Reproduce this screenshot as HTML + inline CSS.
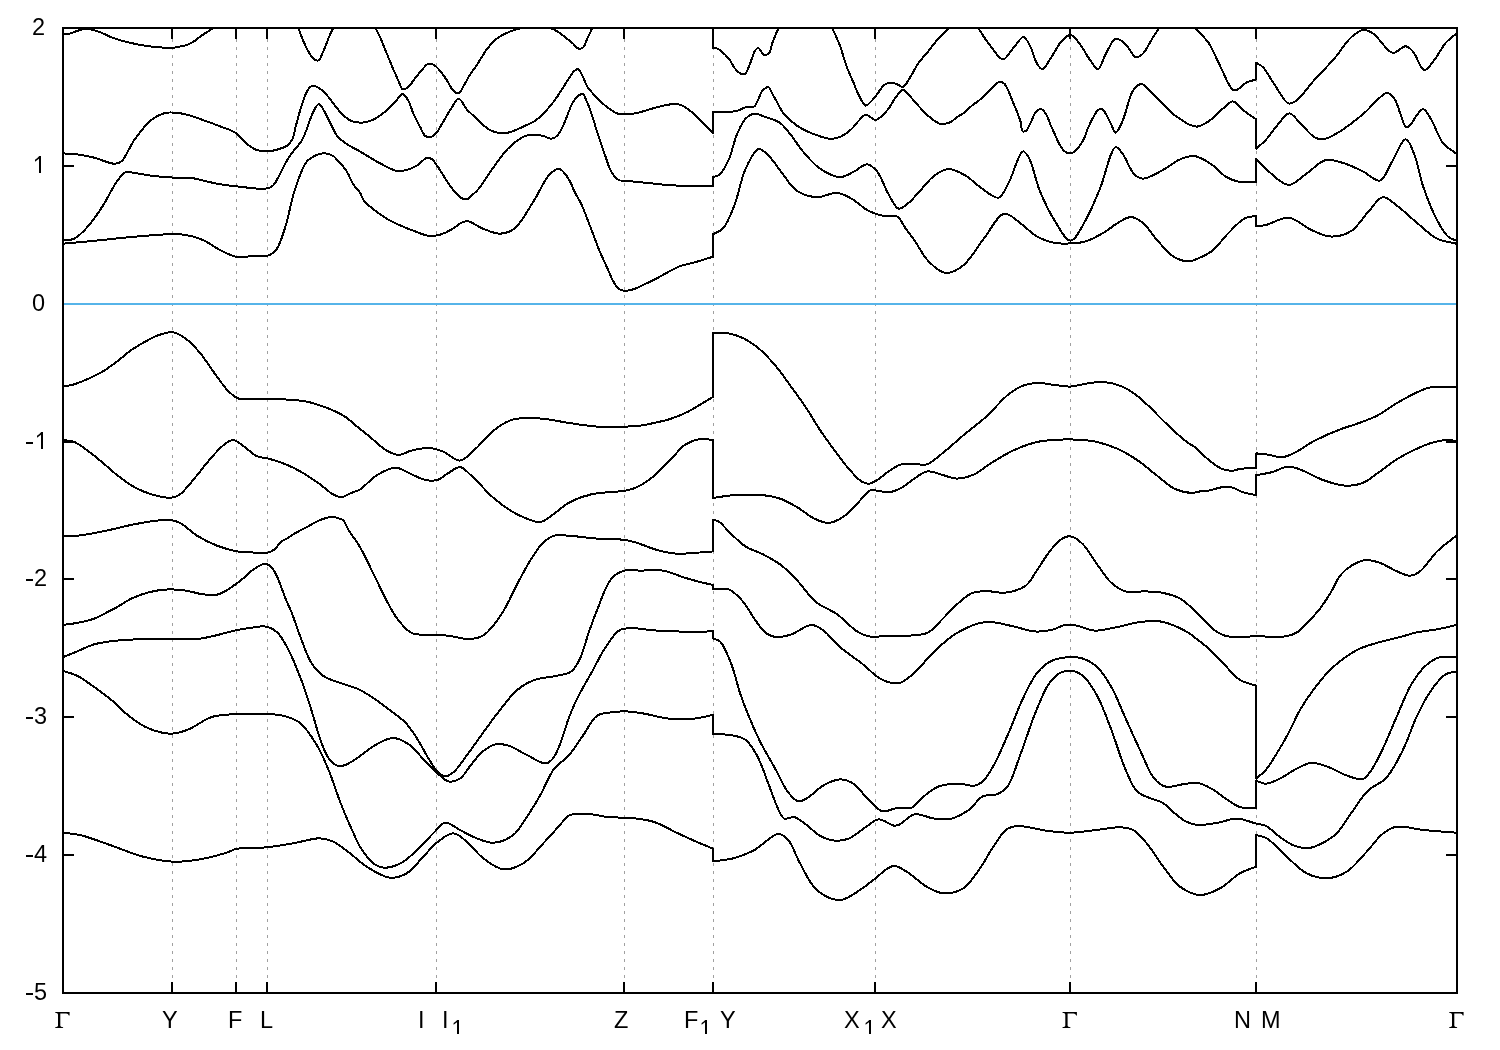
<!DOCTYPE html>
<html><head><meta charset="utf-8"><style>
html,body{margin:0;padding:0;background:#fff;}
svg{display:block;}
text{font-family:"Liberation Sans",sans-serif;font-size:23.5px;fill:#000;}
.g{font-family:"Liberation Serif",serif;}
</style></head><body>
<svg width="1500" height="1050" viewBox="0 0 1500 1050" style="will-change:transform">
<rect width="1500" height="1050" fill="#fff"/>
<defs><clipPath id="pa"><rect x="63" y="28" width="1394" height="965"/></clipPath></defs>
<g stroke="#a0a0a0" stroke-width="1" stroke-dasharray="3 5" stroke-dashoffset="0" fill="none"><line x1="172.5" y1="994" x2="172.5" y2="29"/><line x1="236.5" y1="994" x2="236.5" y2="29"/><line x1="267.5" y1="994" x2="267.5" y2="29"/><line x1="436.5" y1="994" x2="436.5" y2="29"/><line x1="624.5" y1="994" x2="624.5" y2="29"/><line x1="713.5" y1="994" x2="713.5" y2="29"/><line x1="875.5" y1="994" x2="875.5" y2="29"/><line x1="1070.5" y1="994" x2="1070.5" y2="29"/><line x1="1256.5" y1="994" x2="1256.5" y2="29"/></g>
<g clip-path="url(#pa)" fill="none" stroke="#000" stroke-width="2" stroke-linejoin="round" shape-rendering="crispEdges">
<path d="M60 35C61.2 34.8 62.1 34.6 63.5 34.4C65.5 34.1 68.4 33.9 70.7 33.3C73 32.7 75.2 31.6 77.3 30.9C79.2 30.3 80.6 29.6 82.7 29.3C85.4 29 88.9 29.1 92 29.6C95.1 30.2 98 31.4 101.3 32.7C105.1 34.2 109.1 36.5 113.3 38C117.6 39.6 121.8 40.8 126.7 42C132.7 43.5 140.7 45.1 146.7 46C151.6 46.7 156 47 160 47.3C163.4 47.6 166.2 48.1 169.3 48C172.4 47.9 175.5 47.5 178.7 46.9C182.2 46.2 186.2 45.3 189.3 44C191.9 42.9 194.1 41.3 196 40C197.6 38.9 198.5 37.8 200 36.7C201.7 35.4 203.7 34.2 205.7 32.9C207.7 31.6 209.9 30.3 212 29C214 27.7 216 26.3 218 25"/><path d="M296.2 21C297.1 23.5 297.9 25.9 298.8 28.6C299.9 31.7 301 35.6 302.2 38.5C303.1 40.8 304.1 42.7 305 44.6C305.7 46.2 306.3 47.5 307.1 49.1C308 50.8 309.2 52.9 310.2 54.5C311.1 55.9 312 57.4 312.9 58.3C313.5 59 314 59.4 314.8 59.8C315.6 60.2 316.9 60.7 317.8 60.6C318.5 60.5 319.1 60 319.7 59.4C320.5 58.5 320.9 56.7 321.6 55.2C322.4 53.4 323.4 51.2 324.3 49.1C325.2 46.9 326.2 44.5 327 42.3C327.8 40.3 328.3 38.6 329.2 36.6C330.2 34.2 331.6 31.5 332.7 29C333.7 26.6 334.6 24.3 335.5 22"/><path d="M373 22C374 24.2 374.8 26.2 376 28.7C377.5 32 379.6 36.1 381.3 40C383.1 44.2 384.8 48.7 386.7 53.3C388.8 58.4 391.2 64.4 393.3 69.3C395.2 73.6 397 77.7 398.7 81.3C400.1 84.3 400.9 88.6 402.7 89.3C404.2 89.9 406.3 88.6 408 87.3C410.4 85.6 412.5 81.5 414.7 78.7C416.9 76 419 73.2 421.3 70.7C423.5 68.3 425.7 64.8 428 64C429.7 63.4 431.6 63.9 433.3 64.7C435.6 65.7 437.9 68.3 440 70.7C442.4 73.4 444.5 76.8 446.7 80C449 83.4 450.9 88.5 453.3 90.7C455 92.2 457.1 93.7 458.7 93.3C460.8 92.7 462.2 88.2 464 85.3C466 82 467.9 78.1 470 74.7C472.1 71.4 474.3 68.9 476.7 65.3C479.9 60.6 483.6 53.4 487.3 48.7C490.3 44.8 493.2 41.4 496.7 38.7C500 36.1 503.7 34.3 507.3 32.7C510.8 31.1 514.5 30 518 29C521.4 28 524.5 27 528 26.5C531.8 26 536 25.6 540 26C544.2 26.4 549.2 27.6 552.7 29C555.3 30 557.1 31.3 559.3 32.7C561.6 34.2 563.8 36.2 566 38C568.2 39.8 570.6 41.5 572.7 43.3C574.8 45.1 576.7 48.3 578.7 48.7C580.2 49 582 48.4 583.3 47.3C585.1 45.7 585.9 41.7 587.3 38.7C588.8 35.5 590.6 31.7 592 28.7C593.1 26.2 594 24.2 595 22"/><path d="M62.9 153.4C67.6 153.7 72.1 153.7 77 154.3C82.5 155 88.4 156.2 94.3 157.7C100.8 159.3 109.3 163.8 114.3 163.7C117.3 163.7 119 163.3 121.4 161.4C125.7 158 129.4 146.8 134.3 140C139.3 133 145.5 124.6 151.4 120C156 116.4 160.6 114 165.7 112.9C171 111.8 177 112.7 182.9 113.7C189.4 114.9 196.5 117.8 202.9 120C208.8 122 214.4 124.1 220 126.3C225.4 128.4 231.3 129.9 235.7 132.9C239.7 135.6 242.1 140 245.7 142.9C249.2 145.7 252.8 148.7 257 150C261.3 151.4 267.2 151.3 271.4 150.9C274.7 150.6 277.3 149.6 280 148.7C282.4 147.9 284.7 147.4 286.7 146C288.8 144.5 290.6 142.7 292 140C294 136.3 294.6 130.5 296 125.3C297.6 119.5 299.4 112.5 301.3 106.7C303 101.5 304.8 95.6 306.7 92C308 89.7 309.2 87.6 310.7 86.7C311.9 86 313.3 85.8 314.7 86C316.4 86.3 318.3 87.6 320 88.7C321.8 89.9 323.4 91.4 325.3 93.3C327.8 95.9 330.6 100 333.3 103.3C336 106.6 338.3 110.4 341.3 113.3C344.2 116.1 347.3 119.1 350.7 120.7C354 122.2 357.9 122.7 361.3 122.7C364.5 122.7 367.6 121.9 370.7 120.7C374.2 119.4 378 117 381.3 114.7C384.6 112.4 387.9 109.4 390.7 106.7C393.2 104.3 395.2 101.5 397.3 99.3C399.1 97.4 400.7 94 402.4 94C404.2 94 406.4 97.4 408 100C410.2 103.4 411.3 108.9 413.3 113.3C415.3 117.8 417.8 122.7 420 126.7C421.8 130.1 423.1 134.4 425.3 136C426.9 137.1 429 137.4 430.7 137C432.6 136.6 434.3 135.1 436 133.3C438.4 130.8 440.4 126.5 442.7 122.7C445.3 118.5 447.9 113.4 450.7 109.3C453.3 105.5 456 98.7 458.7 98.7C461.4 98.7 463.7 106 466.7 109.3C469.7 112.7 473.7 115.8 476.7 118.7C479.1 121.1 480.8 123.3 483.3 125.3C486.1 127.5 489.2 130 492.7 131.3C496.3 132.7 501 133.5 504.7 133.3C508 133.1 510.7 131.9 514 130.7C517.8 129.3 522.3 127.1 526 125.3C529.3 123.7 532.2 122.8 535.3 120.7C538.9 118.2 542.8 114.1 546 110.7C549 107.6 551.4 104.7 554 101.3C556.8 97.6 559.5 93.2 562 89.3C564.4 85.7 566.6 81.9 568.7 78.7C570.5 76 572.2 72.9 574 71.3C575.3 70.1 576.8 68.8 578 69.1C579.5 69.4 580.7 72.4 582 74.7C583.8 77.9 585 83.1 587.3 86.7C589.5 90.2 592.6 93.1 595.3 96C597.9 98.8 600.7 101.7 603.3 104C605.6 106 607.6 107.7 610 109.3C612.5 110.9 614.8 112.9 618 113.7C622.1 114.7 628.2 114.2 632.7 113.7C636.5 113.3 639.6 112.3 643.3 111.3C647.5 110.2 652.1 108.5 656.7 107.3C661.5 106.1 667 104.6 671.4 104.3C675 104.1 678 103.9 681.4 105.1C685.6 106.6 690.3 110.9 694.3 114.3C698.4 117.7 702.3 122.3 705.7 125.7C708.4 128.4 710.5 130.5 712.9 132.9L712.9 112C716.2 112 719.3 112.1 722.9 112C727.2 111.8 733 111.9 737 110.9C740.1 110.1 742.2 108.1 745 107.4C747.9 106.6 752.2 107.9 754.3 106.5C756.1 105.3 756.5 102.8 757.7 100.5C759.3 97.6 760.6 92.5 762.8 90.3C764.5 88.6 767.2 86.8 768.8 87.3C770.4 87.8 771.1 91.6 772.3 93.7C773.4 95.7 774.5 97.5 775.7 99.7C777.2 102.5 779.2 106.5 780.8 109.1C782 111.1 782.6 112.4 784.3 114.3C787.1 117.5 792.2 122.4 797 125.7C802.1 129.2 808.4 132.1 814.3 134.3C819.9 136.4 826.6 138.9 831.4 138.9C834.9 138.9 837.5 138 840.6 136.6C844.4 134.9 848.8 131.5 852 128.6C854.8 126.1 856.5 123 858.9 120.6C861.1 118.4 863.1 115.2 865.7 114.9C868.6 114.6 872.7 120 875.4 120C877.4 120 878.8 118.5 880.6 117.1C883.1 115.1 886.2 111.7 888.6 108.6C891.1 105.3 892.9 100.9 895.4 97.7C897.7 94.8 900.4 90.1 902.9 90C905.3 89.9 907.8 94.1 910.3 96.6C913.3 99.6 916.2 103.5 919.4 106.9C922.7 110.4 926.1 114.2 929.7 117.1C933 119.8 936.9 122.9 940 123.8C942.2 124.4 944.1 124 946 123.6C947.8 123.3 949.4 122.7 951.1 121.8C953.1 120.7 955 118.6 957.1 117.1C959.3 115.6 961.7 114.6 964 112.8C966.8 110.7 969.9 107.2 972.6 105.1C974.7 103.4 976.5 102.5 978.6 100.8C981.1 98.8 983.9 96.3 986.3 94C988.7 91.7 990.9 89.2 993.1 87.1C995.1 85.2 997.1 82.4 999.1 82C1000.8 81.7 1002.8 82.5 1004.3 83.7C1006.2 85.2 1007.3 88.6 1008.6 91.4C1010.1 94.5 1011.4 98.3 1012.8 101.7C1014.2 105.1 1015.8 108.6 1017.1 112C1018.3 115.2 1019.6 118.2 1020.5 121.4C1021.4 124.6 1021.2 130.3 1022.7 131.3C1023.7 131.9 1025.4 131.3 1026.5 130.4C1028.2 129.1 1029.3 125.2 1030.8 122.3C1032.5 119.1 1033.9 114.2 1036 112C1037.5 110.4 1039.5 108.8 1041.1 109C1042.9 109.3 1044.8 112.3 1046.3 114.6C1048.1 117.4 1049.1 121.5 1050.5 124.8C1051.9 128 1053.4 131.1 1054.8 134.3C1056.2 137.4 1057.4 140.8 1059.1 143.7C1060.6 146.4 1062.3 149.3 1064.3 151C1065.9 152.3 1067.7 153.3 1069.4 153.5C1070.9 153.6 1072.3 153.2 1073.7 152.3C1075.7 151.1 1078 148.1 1079.7 145.8C1081.4 143.5 1082.7 141.3 1084 138.6C1085.6 135.3 1086.6 131.2 1088.3 127.4C1090.1 123.4 1092.5 118.5 1094.3 115.4C1095.5 113.3 1096.3 111.4 1097.7 110.3C1098.9 109.4 1100.7 108.5 1102 109C1103.9 109.7 1105.6 113.7 1107.1 116.3C1108.7 119 1109.9 122 1111.4 124.8C1112.8 127.5 1114.1 132.6 1115.7 132.6C1117.5 132.7 1120 126.6 1121.7 123.1C1123.5 119.4 1124.7 115.1 1126 111.1C1127.3 107.1 1128 102.8 1129.4 99.1C1130.6 95.7 1131.7 92.3 1133.7 89.7C1135.5 87.3 1138.5 84.5 1140.5 84.1C1141.8 83.8 1142.8 84.3 1144 85C1145.9 86.1 1148 89 1150 91C1152 93.1 1154.1 95.6 1156 97.4C1157.5 98.9 1158.7 99.8 1160.3 101.3C1162.3 103.2 1164.9 105.5 1167.1 107.7C1169.2 109.8 1170.9 112.2 1173.1 114.1C1175.2 115.9 1177.6 117.2 1180 118.8C1182.7 120.6 1185.6 123 1188.6 124.3C1191.3 125.5 1194 126.8 1197 126.6C1200.6 126.3 1204.7 123.9 1208.6 121.4C1213.4 118.3 1218.5 112.2 1222.9 108.6C1226.4 105.7 1229.6 101.3 1232.9 101.4C1236.3 101.5 1239.2 107.2 1242.9 110C1247 113.2 1251.8 116.3 1256.3 119.4L1256.3 148.6C1259.4 145.7 1262.6 143.4 1265.7 140C1269.5 136 1273 130.2 1277 125.7C1280.9 121.3 1285.1 113.6 1289.1 113.4C1292.8 113.3 1296.2 119.3 1300 122.9C1304.5 127.1 1309.8 134.5 1314.3 137.1C1317.3 138.8 1319.6 139.7 1322.9 139.4C1327.7 139 1334.1 134.9 1340 131.4C1347.3 127 1355.3 120.5 1362.9 114.3C1371 107.7 1381.4 93.1 1387.1 92.9C1390.2 92.8 1392 95.5 1394.3 98.6C1398.5 104.1 1402.4 124.4 1405.7 126.6C1406.7 127.3 1407.4 127.2 1408.6 126.6C1411.8 125.1 1418.8 109.1 1422.9 109.1C1426.1 109.1 1428.6 115.5 1431.4 120C1435.2 126.1 1438.2 137 1442.9 142.9C1446.8 147.7 1451.8 150.1 1456.3 153.7"/><path d="M830 22C830.9 24.2 831.5 25.8 832.6 28.6C834.5 33.3 838.3 41.1 840.6 47.4C842.8 53.5 844.2 59.9 846.3 65.7C848.3 71.3 850.9 76.6 853.1 81.7C855.1 86.4 856.7 91.3 858.9 95.4C860.9 99.2 863.4 105.3 865.7 105.7C867.2 106 868.7 103.8 870.3 102.3C872.5 100.3 874.9 97.1 877.1 94.3C879.4 91.4 881.4 87 884 85.1C886.1 83.5 888.7 82.7 890.9 82.6C892.9 82.5 894.7 83.3 896.6 84C898.7 84.7 900.9 87.4 902.9 86.9C905.6 86.2 907.9 80.7 910.3 77.1C913 73 915.3 67.7 918.3 63.4C921.4 59 925.3 55 928.6 50.9C931.7 47 934.5 43.1 937.7 39.4C940.9 35.7 945.4 31.5 948 28.6C949.7 26.8 950.7 25.5 952 24"/><path d="M975 22C976.2 24.2 976.9 25.9 978.6 28.6C981.5 33.3 987 41.7 991.4 47.1C995.2 51.8 999.2 59.4 1002.9 59.4C1006.4 59.4 1009.5 52.3 1012.9 48.6C1016.4 44.8 1020.4 37 1023.4 37.1C1025.9 37.2 1028 42.2 1030 45.7C1032.6 50.3 1034 58.8 1036.6 62.9C1038.3 65.7 1040.2 69.2 1042.3 69.1C1045.1 69 1048.4 61.4 1051.4 57.1C1054.8 52.3 1057.7 45.3 1061.4 41.4C1064.3 38.4 1067.6 34.6 1070.6 34.9C1073.8 35.2 1077 40.6 1080 44.3C1083.5 48.7 1086.7 55.6 1090 60C1092.7 63.6 1095.6 69.4 1098 69.1C1100.9 68.8 1102.8 59.2 1105.7 54.3C1108.7 49.1 1111.9 39.6 1115.7 38.6C1118.7 37.9 1122.6 41.6 1125.7 44.3C1129.4 47.5 1132.3 56.3 1135.7 57.1C1138.1 57.7 1140.7 55.7 1142.9 53.7C1146.1 50.9 1148.7 44.4 1151.4 40C1153.9 36 1156.7 31.9 1158.6 28.6C1160 26.1 1160.9 24.2 1162 22"/><path d="M1192 22C1193.2 24.2 1193.9 26.1 1195.7 28.6C1198.6 32.6 1204.8 37.3 1208.6 42.9C1213 49.4 1216 58 1220 65.7C1224.1 73.7 1229.1 87.7 1232.9 90C1234.3 90.9 1235.5 90.5 1237 90C1239.5 89.1 1242.5 84.7 1245.7 82.9C1248.9 81.1 1252.8 80.6 1256.3 79.4L1256.3 62.9C1258.5 64.3 1260.6 64.9 1262.9 67.1C1266.6 70.7 1270.2 78.5 1274.3 84.3C1278.7 90.6 1284 102.1 1288.6 103.4C1291.5 104.2 1294 102.2 1297 100C1302.1 96.3 1308.3 86.7 1314.3 80C1320.7 72.9 1328 65.9 1334.3 58.6C1340.4 51.6 1345.8 42 1351.4 37.1C1355.3 33.6 1359 30.4 1362.9 30C1366.6 29.6 1371 32 1374.3 34.3C1377.7 36.7 1379.8 41.2 1382.9 44.3C1386 47.4 1389.2 52.5 1392.9 52.9C1396.8 53.4 1402.1 46 1405.7 46.3C1408.5 46.5 1410.5 48.8 1412.9 51.4C1416.7 55.4 1420.3 69.5 1424.3 70C1427.5 70.4 1431 64 1434.3 60C1438.2 55.2 1441.6 47.5 1445.7 42.9C1449.1 39.1 1453.6 35.8 1456.3 33.7C1457.8 32.5 1458.8 31.9 1460 31"/><path d="M712.9 22L712.9 47.9L712.9 47.9C714.4 48.2 716 48.2 717.4 48.7C718.7 49.2 719.5 49.8 720.8 50.8C723.1 52.6 727 56.4 729.4 59.4C731.5 62.1 732.5 65.5 734.6 68C736.6 70.4 739.3 73.3 741.4 74C742.8 74.4 744.1 74.4 745.3 73.6C747.2 72.2 748.6 67 750 63.7C751.3 60.6 752.4 56.7 753.4 54.3C754 52.7 754.2 51.4 755.1 50.4C756 49.4 757.4 47.9 758.6 48.1C760.3 48.4 761.8 54 763.7 54.7C765.2 55.2 767.5 54.6 768.8 53.4C770.7 51.6 771.1 46.4 772.3 43.1C773.4 40.1 774.6 37.2 775.7 34.6C776.6 32.4 777.5 30.5 778.3 28.6C779 27 779.4 25.5 780 24"/><path d="M62.9 240.6C66.7 239.9 70.5 240.4 74.3 238.6C79.1 236.2 84.1 230.8 88.6 225.7C93.7 220 98.3 212.8 102.9 205.7C107.8 198.1 112.5 187.4 117 181.4C120 177.3 122.5 173.2 125.7 172C128.3 171 131 172.5 134.3 172.9C139 173.5 145.3 174.9 151.4 175.7C158.5 176.6 167.2 177.3 174.3 177.7C180.4 178 185.2 177.3 191.4 178C199.1 178.9 208.4 182.2 217 183.7C225.6 185.2 234.5 186.3 242.9 187.1C250.7 187.9 260.3 189.5 265.7 188.6C268.8 188.1 270.8 187.5 272.9 185.7C275.7 183.3 277.6 178.2 280 174C282.7 169.3 285.5 162.8 288 158.7C289.8 155.7 291.3 153.9 293.3 151.3C295.7 148.2 299.1 144.9 301.3 141.3C303.6 137.6 305 133.5 306.7 129.3C308.6 124.7 309.9 119.1 312 114.7C313.9 110.7 316.5 104.1 318.7 104C320.5 103.9 322.3 108 324 110.7C326.3 114.3 328.4 119.7 330.7 124C332.9 128.1 334.5 132.6 337.3 136C339.9 139.2 343.2 141.5 346.7 144C350.6 146.7 355.6 148.9 360 151.5C364.5 154.1 369.6 157.3 373.3 159.5C375.9 161 377.3 161.9 380 163.3C384.2 165.4 391.1 169.8 396 170.7C399.8 171.4 403.2 170.9 406.7 170C410.3 169.1 414 167.3 417.3 165.3C420.7 163.3 423.9 158.6 426.7 158C428.6 157.6 430.4 158.3 432 159.3C434 160.6 435.4 163.3 437.3 166C440.1 169.9 443.8 176.4 446.7 180.7C449 184.2 450.9 187.1 453.3 190C455.7 192.9 458.7 196.5 461.3 198C463.1 199 465 199.7 466.7 199.3C468.6 198.9 470.1 196.9 472 195.3C474.5 193.2 478.1 189.7 480 187.3C481.3 185.7 481.5 184.9 482.9 182.9C486.1 178.1 494.7 165.4 499.3 159.3C502.4 155.2 504.5 152.3 507.3 149.3C509.9 146.6 512.3 144.2 515.3 142C518.5 139.6 522.6 136.9 526 135.7C528.8 134.8 531.2 134.7 534 134.7C537 134.7 540.4 135.3 543.3 136C545.9 136.7 548.5 138.6 550.7 138.7C552.4 138.7 553.8 138.3 555.3 137.3C557.2 136 559.1 133.4 560.7 130.7C562.7 127.4 564.2 123 566 118.7C568.1 113.8 570.3 106.8 572.7 102.7C574.4 99.8 576.1 97.5 578 96C579.5 94.9 581.3 93.5 582.7 94C584.6 94.7 585.8 99.4 587.3 102.7C589.2 106.9 591.1 112.5 592.7 117.3C594.2 121.8 595.2 126 596.7 130.7C598.3 135.8 600.3 141.6 602 146.7C603.6 151.3 605.2 155.8 606.7 160C608.1 163.8 608.8 167.4 610.7 170.7C612.7 174.1 616 178.6 618.7 180C620.5 181 621.6 180.4 624 180.7C628.7 181.2 638.4 182 645.3 182.7C651.7 183.3 657.4 184.2 664 184.7C671.5 185.3 679.9 185.8 688 186C696.2 186.2 704.6 186 712.9 186L712.9 177.1C715.3 176.2 717.8 176.2 720 174.3C723.2 171.6 726 165.6 728.6 160C731.9 152.8 733.8 141.7 737 134.3C739.6 128.3 742.2 122.1 745.7 118.6C748.3 116 751.1 114.1 754.3 113.7C757.8 113.3 761.7 115.7 765.7 117.1C770.2 118.7 775.8 119.9 780 122.9C784.4 126 787.7 131.1 791.4 135.7C795.3 140.6 798.5 146.2 802.9 151.4C807.9 157.2 813.6 164.3 820 168.6C826 172.7 833.9 177 840 177.1C845.2 177.2 849.7 173.6 854.3 171.4C858.7 169.3 863.1 164.1 867 164.3C870.6 164.5 873.9 167.8 877 171.4C881.4 176.5 884.6 187.7 888.6 194.3C891.9 199.8 894.8 207.8 898.6 208.6C901.7 209.3 905.6 205.2 908.6 202.9C911.7 200.5 913.7 197.7 917 194.3C921.8 189.3 928.4 180 934.3 175.7C939 172.3 943.6 169.3 948.6 169.1C954 168.9 960.5 172.7 965.7 175.7C970.9 178.7 974.8 183.6 980 187.1C985.7 190.9 993.7 198.8 998.6 197.7C1003 196.7 1005.2 188.9 1008.6 182.9C1013.3 174.5 1018.7 152.2 1022.9 151.4C1024.9 151 1026.7 154.1 1028.6 157.1C1032.6 163.5 1035.5 180.6 1040 191.4C1044.2 201.5 1048.9 211.5 1054.3 220C1059.2 227.7 1065.3 240.7 1070.6 240.6C1075.8 240.5 1081.1 227.9 1085.7 220C1091 210.9 1095.3 199.9 1100 188.6C1105.3 175.8 1110.6 148.2 1115.7 147.1C1118.1 146.6 1120.4 151.1 1122.9 154.3C1126.6 159.1 1130.1 170.3 1134.3 174.3C1137 176.9 1139.4 178.5 1142.9 178.6C1148.2 178.8 1156.6 173.3 1162.9 170C1168.9 166.8 1174.4 161.7 1180 159.4C1184.8 157.4 1189.4 155.5 1194.3 156C1199.9 156.6 1206.2 160.9 1211.4 164.3C1216.6 167.7 1220.7 173.6 1225.7 176.6C1230.2 179.3 1235 181.1 1240 182C1245.2 182.9 1250.9 182 1256.3 182L1256.3 159.1C1260.4 163.2 1263.8 167.4 1268.6 171.4C1274.3 176.1 1282.2 184.8 1288.6 184.9C1294.5 185 1299.8 178.2 1305.7 174.3C1312.2 170 1319 161.6 1325.7 160C1331.4 158.7 1337.1 161.2 1342.9 162.9C1349.4 164.8 1356.6 168.4 1362.9 171.4C1368.9 174.3 1375.3 181.8 1380 180.6C1384.9 179.3 1387.4 169.2 1391.4 162.9C1395.9 155.6 1401.6 139.4 1405.7 139.4C1409 139.4 1411.8 148.2 1414.3 154.3C1417.8 162.7 1419.3 175.1 1422.9 185.7C1426.8 197 1432 210.7 1437 220C1440.7 226.9 1444.6 233.8 1448.6 237.1C1451.1 239.2 1453.7 239.4 1456.3 240.6"/><path d="M62.9 243.7C71.5 242.9 79 242.3 88.6 241.4C101.1 240.2 117.6 238.2 131.4 237C144.2 235.9 158.6 234.5 168.6 234.3C175.4 234.2 180 234 185.7 234.9C191.5 235.8 197.3 237.6 202.9 240C208.8 242.5 214.3 247.2 220 250C225.3 252.6 230.1 255.6 235.7 256.6C241.5 257.7 248.4 256.3 254.3 256C259.8 255.7 266 256.6 270 254.9C273.1 253.6 274.9 251.7 277 248.6C280.4 243.6 283 234.2 285.7 225.7C288.9 215.5 290.8 202.2 294.3 191.4C297.6 181.3 302.5 167.7 305.7 162.9C307 160.9 307.8 160.5 309.3 159.3C311.4 157.7 314.5 155.7 317.3 154.7C319.9 153.8 322.7 153.1 325.3 153.3C328 153.5 331.4 154.8 333.3 156C334.6 156.8 335 157.6 336 158.7C337.4 160.2 339.3 162 341 164C342.9 166.2 345 168.5 346.7 171.3C348.7 174.4 350.3 179 352 182C353.4 184.3 354.6 186.2 356 188C357.3 189.7 358.8 190.8 360 192.7C361.5 194.9 362.3 198.4 364 200.7C365.7 202.9 368 204.7 370 206.5C372 208.2 373.7 209.6 376 211.3C379 213.5 382.9 216.4 386.7 218.7C390.8 221.1 395.5 223.3 400 225.3C404.4 227.3 409.1 229.1 413.3 230.7C417 232.2 420.8 233.8 424 234.7C426.5 235.4 428.3 235.9 430.7 236C433.5 236.1 436.8 235.6 440 234.7C443.8 233.6 448.3 231.4 452 229.3C455.4 227.4 458.3 224 461.3 222.7C463.6 221.7 465.4 221 468 221.3C472.1 221.8 477.7 226.6 482.9 228.6C488.3 230.7 494.6 233.8 500 233.7C505 233.6 509.7 232.1 514.3 228.6C521.3 223.3 528.4 209.3 534.3 200C539.6 191.7 543.7 181.1 548.6 175.7C551.9 172.2 555.9 168.6 558.6 168.6C560.4 168.6 561.5 170.1 563 171.5C565.1 173.5 567.4 176.8 569.3 180C571.4 183.6 572.7 188 574.7 192C576.7 196 579.3 199.8 581.3 204C583.3 208.3 584.8 212.6 586.7 217.3C588.8 222.7 591.1 228.9 593.3 234.7C595.5 240.5 597.7 246.5 600 252C602.2 257.1 604.5 261.8 606.7 266.7C608.9 271.6 611 277.3 613.3 281.3C615 284.3 616.6 287.1 618.7 288.7C620.3 289.9 622 290.5 624 290.7C626.6 291 630 290.3 633.3 289.3C637.4 288.1 642.4 285.3 646.7 283.3C650.8 281.3 654.2 279.6 658.7 277.3C664.5 274.3 672.4 269.2 678.7 266.7C683.8 264.7 688.1 264.2 693.3 262.7C699.4 261 706.4 258.8 712.9 256.8L712.9 234.3C716.2 232.4 719.9 231.8 722.9 228.6C727.4 223.8 730.8 214.4 734.3 205.7C738.6 195 740.9 178.7 745.7 168.6C749.4 160.7 754.1 150 758.6 149.1C761.8 148.4 765.2 152.6 768.6 155.7C773.3 160.1 778.1 168.3 782.9 174.3C787.5 180 791.2 187.1 797 190.9C802.6 194.6 810.3 196.8 817 197.1C823.6 197.4 830.9 192.4 837 192.9C842.3 193.3 846.6 196 851.4 198.6C857.1 201.7 862.9 208 868.6 210.9C873.4 213.4 878.1 214.8 882.9 215.7C887.6 216.6 893.2 214.5 897 216.6C900.9 218.7 902.8 224.7 905.7 228.6C908.6 232.5 911.1 235.6 914.3 240C918.5 246 923 255.8 928.6 261.4C933.6 266.4 939.8 272.3 945.7 272.9C951.3 273.4 957.5 269.9 962.9 265.7C970.1 260.2 976.1 248.6 982.9 240C989.9 231.2 997.2 215 1004.3 213.7C1009.5 212.8 1014.8 219.3 1020 222.9C1025.7 226.8 1031.1 233.2 1037.1 236.6C1042.6 239.7 1048.6 241.8 1054.3 242.9C1059.7 243.9 1065.3 243.7 1070.6 243.4C1075.7 243.1 1080.5 243 1085.7 241.4C1092.1 239.5 1100.1 234.8 1105.7 231.4C1110.1 228.8 1112.9 225.7 1117 223.4C1121.3 220.9 1126.4 217 1130.9 217.1C1135.1 217.2 1139.1 219.9 1142.9 222.9C1147.9 226.8 1151.9 234.4 1157 240C1162.3 245.8 1168.4 253.6 1174.3 257.1C1179 259.9 1184.9 261.3 1188.6 261.4C1190.9 261.5 1192 260.9 1194.3 260C1198.5 258.4 1206 255.4 1211.4 251.4C1217.6 246.8 1222.9 238.6 1228.6 232.9C1233.8 227.7 1239.1 221.4 1244.3 218.6C1248.3 216.5 1252.3 216.7 1256.3 215.7L1256.3 226.3C1259.4 225.9 1261.9 225.9 1265.7 225.1C1271.7 223.8 1281.1 217 1288.6 217.7C1296.4 218.4 1303.9 226.8 1311.4 230C1318.2 232.9 1324.7 236.5 1331.4 236.6C1338 236.7 1345.5 234.6 1351.4 230.9C1358 226.7 1363 217.3 1368.6 211.4C1373.5 206.2 1377.9 197.7 1382.9 197.1C1387.4 196.6 1392 202.1 1397 205.7C1403.3 210.3 1410.3 217.4 1417 222.9C1423.6 228.3 1430 235.1 1437 238.6C1443.2 241.7 1449.9 242 1456.3 243.7"/><path d="M62.9 386.6C66.7 385.8 70.3 385.5 74.3 384.3C78.9 382.9 83.9 380.7 88.6 378.6C93.4 376.4 98.2 374.2 102.9 371.4C107.8 368.5 112.4 364.9 117.1 361.4C121.9 357.8 126.5 353.4 131.4 350C136.1 346.8 141 344 145.7 341.4C150.1 339 154.1 336.6 158.6 335.1C163.1 333.6 168.4 331.7 172.9 332.3C177.4 332.9 181.6 335.6 185.7 338.6C190.6 342.1 195.4 347.5 200 352.9C205 358.8 209.5 366.4 214.3 372.9C219 379.2 223.9 386.9 228.6 391.4C232 394.7 234.7 397.3 238.6 398.6C243.1 400.1 248.6 399 254.3 399.1C261.2 399.2 269.1 398.8 277.1 399.1C286.1 399.5 296.8 399.7 305.7 401.4C313.9 403 321.6 405.8 328.6 408.6C334.8 411.1 341.1 414.1 345.7 417.1C349.2 419.4 351.1 421.6 354.3 424.3C358.4 427.7 363.6 431.7 368.6 435.7C374.1 440.2 380.1 446.7 385.7 450C390.1 452.6 394.3 454.8 398.6 454.9C402.9 455 406.8 451.7 411.4 450.6C416.7 449.3 423.2 447.8 428.6 448C433.6 448.2 438 449.6 442.9 451.4C448.5 453.5 454.7 461 460 460.6C465.1 460.2 469.3 454.3 474.3 450C480.6 444.6 487.6 435.2 494.3 430C499.9 425.6 505.8 422 511.4 420C516.2 418.3 520.5 418.2 525.7 418C531.8 417.7 538.8 418.3 545.7 419.1C553.1 419.9 560.5 421.7 568.6 422.9C577.6 424.2 587.6 426 597.1 426.6C606.6 427.2 617.8 426.8 625.7 426.6C631.3 426.4 635.3 426.3 640 425.7C644.8 425.1 649.3 424 654.3 422.9C659.8 421.7 665.8 420.5 671.4 418.6C677.2 416.7 683.2 414.1 688.6 411.4C693.7 408.8 698.6 405.5 702.9 402.9C706.5 400.8 709.6 399 712.9 397.1L712.9 332.9C718.1 333.1 723.5 332.5 728.6 333.4C733.5 334.3 738.3 335.8 742.9 338C747.8 340.3 752.3 343.3 757.1 347.1C762.8 351.7 768.8 357.9 774.3 364.3C780.3 371.2 786 379.7 791.4 387.1C796.4 394 801 400.1 805.7 407.1C810.6 414.4 815.1 422.7 820 430C824.7 437 829.5 443.5 834.3 450C839 456.4 843.8 463.1 848.6 468.6C852.8 473.4 857.5 479 861.4 481.4C863.9 482.9 866.1 483.8 868.6 483.7C871.3 483.6 874.2 481.7 877.1 480C880.8 477.9 884.6 474 888.6 471.4C892.7 468.8 896.7 465.5 901.4 464.3C906.2 463.1 912.5 464.3 917.1 464.3C920.8 464.3 923.6 465.4 927.1 464.3C932 462.7 937.4 457.2 942.9 452.9C949.3 447.9 956 441.5 962.9 435.7C970.2 429.6 978.3 423.8 985.7 417.1C993.5 410.1 1001.5 399.8 1008.6 394.3C1013.7 390.3 1018 387.6 1022.9 385.7C1027.5 383.9 1032.1 383.1 1037.1 382.9C1042.5 382.7 1048.6 384.3 1054.3 384.9C1059.8 385.5 1065.3 386.8 1070.6 386.6C1075.7 386.4 1080.5 384.5 1085.7 383.7C1091.2 382.9 1097.2 381.7 1102.9 382C1108.6 382.3 1114.5 383.5 1120 385.7C1125.9 388 1133.1 392.7 1137.1 395.7C1139.6 397.6 1140.5 399.1 1142.6 400.9C1145.1 403.1 1148.6 405.7 1151.1 408.1C1153.3 410.3 1154.9 412.3 1157.1 414.6C1159.7 417.3 1162.5 420 1165.7 423.1C1169.5 426.8 1174.6 431.6 1178.6 435.1C1181.9 438 1185.1 440.7 1188 442.8C1190.4 444.5 1192.3 445.2 1194.8 447.1C1198.4 449.8 1203.1 455.1 1206.8 458.3C1209.8 460.9 1212.6 463.2 1215.4 465.1C1217.8 466.7 1219.7 468.1 1222.3 469C1225.3 470.1 1229.4 470.8 1232.5 470.7C1235 470.6 1236.9 469.4 1239.4 469C1242.5 468.5 1246.6 468.3 1249.7 468.1C1252.1 467.9 1254.1 467.8 1256.3 467.7L1256.3 453.4C1259.4 453.7 1262.1 453.8 1265.7 454.3C1270.6 454.9 1277.8 457.6 1282.9 457.1C1287.1 456.7 1290.1 454.9 1294.3 452.9C1300.2 450.1 1307.1 444.7 1314.3 440.9C1322.2 436.8 1332.2 432.4 1340 429.4C1346.2 427 1351.2 425.9 1357.1 423.7C1363.5 421.3 1370.6 419 1377.1 415.7C1383.9 412.2 1390.4 406.8 1397.1 402.9C1403.7 399.1 1410.9 395.1 1417.1 392.3C1422.2 390 1425.9 388.1 1431.4 387.1C1438.5 385.9 1448 387.1 1456.3 387.1"/><path d="M62.9 440C66.7 440.7 70.4 440.5 74.3 442C79 443.9 83.9 448 88.6 451.4C93.5 454.9 98.2 459 102.9 462.9C107.7 466.9 112 471.2 117.1 475.1C122.5 479.3 128.4 483.8 134.3 487.1C139.9 490.2 145.4 492.5 151.4 494.3C157.7 496.1 166.2 498.2 171.4 497.7C174.9 497.3 177 496.4 180 494.3C184.5 491.2 189.6 484.1 194.3 478.6C199.2 472.9 203.7 466.5 208.6 460.9C213.3 455.5 218.3 449.3 222.9 445.7C226.3 443 229.6 440 232.9 440C236.2 440 239.4 443.4 242.9 445.7C247.3 448.6 252.4 454.2 257.1 456.3C260.9 458 264.4 457.5 268.6 458.6C273.8 460 280.1 462 285.7 464.3C291.5 466.7 297.3 469.6 302.9 472.9C308.7 476.3 314.8 480.5 320 484.3C324.7 487.7 328.9 492.2 332.9 494.3C335.9 495.9 338.5 497.2 341.4 497.1C344.6 497 348.2 494.2 351.4 492.9C354.4 491.7 356.8 491.3 360 489.4C364.9 486.4 371 478.8 377.1 475.1C382.9 471.6 390.1 467.7 395.7 467.7C400.4 467.7 404 471 408.6 472.9C413.9 475.1 420.5 479 425.7 480C429.8 480.8 433.4 481 437.1 480C441.1 478.9 444.7 475.1 448.6 472.9C452.4 470.8 456.3 466.8 460 467.1C463.9 467.4 467.1 472 471.4 475.7C477.9 481.3 486.4 492 494.3 498.6C501.6 504.7 509.2 510.4 517.1 514.3C524.5 518 533.8 522.6 540 522C544.6 521.6 547.3 518.3 551.4 515.7C556.7 512.3 562.2 506.4 568.6 502.9C575.4 499.2 582.9 496.3 591.4 494.3C601.5 491.9 617.4 492.3 625.7 490.6C630.6 489.6 633.1 489 637.1 487.1C642.4 484.6 648.8 480.2 654.3 475.7C660.3 470.8 666 464 671.4 458.6C676.4 453.6 680.5 447.6 685.7 444.3C690.2 441.5 695.3 439.8 700 439.1C704.3 438.5 708.6 439.7 712.9 440L712.9 498C720 497 726.6 495.6 734.3 495.1C743.1 494.5 754.6 494.3 762.9 495.1C769.4 495.8 774.4 496.7 780 498.6C785.8 500.6 791.5 503.9 797.1 507.1C802.9 510.5 808.6 515.9 814.3 518.6C819.1 520.9 823.9 523.1 828.6 522.9C833.4 522.7 838.4 520 842.9 517.1C848 513.8 852.5 508.2 857.1 503.7C861.5 499.3 866 492.3 870 490.6C872.5 489.6 874.5 490.4 877.1 490.6C880.5 490.8 884.8 492.6 888.6 492.3C892.4 492 896.1 490.5 900 488.6C904.7 486.3 909.6 481.6 914.3 478.6C918.6 475.9 922.5 472.1 927.1 471.4C932 470.7 937.8 473.9 942.9 475.1C947.8 476.3 952.1 478.6 957.1 478.6C962.6 478.6 968.8 476.7 974.3 474.3C980.2 471.7 985.2 466.7 991.4 462.9C998.4 458.6 1006.5 453.5 1014.3 450C1021.8 446.6 1029.9 443.6 1037.1 442C1043.2 440.6 1048.6 440.4 1054.3 440C1059.8 439.6 1064.7 439.3 1070.6 439.4C1077.8 439.6 1086.6 439.9 1094.3 441.4C1102.1 442.9 1109.9 445.5 1117.1 448.6C1124.2 451.7 1130.6 455.6 1137.1 460C1143.9 464.6 1150.7 470.8 1157.1 475.7C1163 480.2 1168.3 485.7 1174.3 488.6C1179.8 491.2 1186.7 492.7 1191.4 492.9C1194.7 493 1197.1 491.8 1200 491.4C1202.9 491 1205.4 491.1 1208.6 490.6C1212.8 489.9 1218.5 487.5 1222.9 487.1C1226.5 486.8 1229.6 486.9 1232.9 487.7C1236.3 488.6 1239.2 491.1 1242.9 492.3C1247 493.6 1251.8 494.2 1256.3 495.1L1256.3 475.1C1261.3 474.2 1266.2 473.6 1271.4 472.3C1277 470.9 1283.1 466.7 1288.6 466.6C1293.6 466.5 1297.8 468.7 1302.9 470.6C1309.1 472.9 1315.9 477.5 1322.9 480C1330.1 482.6 1338.6 485.4 1345.7 485.7C1351.8 486 1357.4 485.1 1362.9 482.9C1368.9 480.5 1374.3 475.3 1380 471.4C1385.7 467.4 1391 462.8 1397.1 459.1C1403.4 455.2 1410.9 451.4 1417.1 448.6C1422.2 446.3 1426.6 444.3 1431.4 442.9C1436.1 441.5 1441.3 440.3 1445.7 440C1449.5 439.8 1452.8 440.6 1456.3 440.9"/><path d="M62.9 535.7C67.6 535.7 71.7 536.1 77.1 535.7C84.4 535.1 94.1 533.1 102.9 531.4C112.2 529.6 122.4 526.7 131.4 524.9C139.4 523.3 147.4 521.7 154.3 520.9C160 520.2 165.4 519.5 170 520C173.7 520.4 176.4 521.1 180 522.9C185.2 525.5 191 531.9 197.1 535.7C203.3 539.6 210.3 543.1 217.1 545.7C223.7 548.2 230.9 550.3 237.1 551.4C242.2 552.3 246.6 552.2 251.4 552.4C256.4 552.7 262.6 553.7 266.7 552.9C269.8 552.3 272 551.2 274.3 549.5C276.8 547.6 278.6 543.9 281 541.9C283.1 540.2 285.5 539.4 287.6 538.1C289.6 536.9 291 535.7 293.3 534.3C296.8 532.2 302.3 529.4 306.7 527.1C310.9 524.9 315.2 522.1 319 520.5C322.1 519.2 325 518.2 327.6 517.6C329.7 517.1 331.4 516.5 333.3 516.7C335.2 516.9 337.3 518 339 518.6C340.4 519.1 341.7 519 342.9 520C345 521.7 346.3 526.3 348.6 530C351.7 535 356 540.3 360 547.1C365.4 556.4 372 571.1 377.1 581.4C381.3 589.8 384.9 597.6 388.6 604.3C391.5 609.7 393.6 614 397.1 618.6C401 623.6 406.2 630.3 411.4 632.9C415.8 635.1 420.4 634.4 425.7 634.9C432.4 635.5 441.2 635 448.6 635.7C455.5 636.4 462.5 639.3 468.6 639.1C473.8 638.9 478.7 638.1 482.9 635.7C487.3 633.2 490.7 628.7 494.3 624.3C498.4 619.3 502.1 613.4 505.7 607.1C509.7 600.1 513 592.1 517.1 584.3C521.5 575.9 526.7 566 531.4 558.6C535.3 552.6 538.7 546.9 542.9 542.9C546.4 539.6 550.1 536.9 554.3 535.7C558.6 534.4 563 535.4 568.6 535.7C576.5 536.1 587.6 537.9 597.1 538.6C606.6 539.3 618.4 538.9 625.7 540C630.4 540.7 632.8 541.6 637.1 542.9C642.9 544.7 650.4 548.2 657.1 550C663.7 551.8 670.7 553.3 677.1 553.7C683 554.1 688.5 553.3 694.3 552.9C700.4 552.5 706.7 551.9 712.9 551.4L712.9 520C714.8 520.5 716.6 520.3 718.6 521.4C721.7 523.1 724.8 527.8 728.6 531.4C733.5 536 739.7 542.7 745.7 546.6C751.2 550.1 757.3 551.4 762.9 554.3C768.7 557.3 774.7 560.5 780 564.3C785.2 568.1 789.7 572.3 794.3 577.1C799.3 582.2 804.4 589.6 808.6 594.3C811.7 597.7 813.4 600.1 817.1 602.9C822.2 606.8 830.6 609.8 837.1 614.3C844 619.2 851.1 627.7 857.1 631.4C861.2 634 864 635.4 868.6 636.3C874.8 637.5 883.6 635.9 891.4 635.7C899.7 635.5 910.3 636 917.1 635.1C921.7 634.5 924.8 634.4 928.6 632.3C933.5 629.6 938.2 623.2 942.9 618.6C947.7 613.9 952.2 608.6 957.1 604.3C961.7 600.2 966.3 595.6 971.4 593.4C975.9 591.5 980.5 591.3 985.7 591.1C991.8 590.8 999.1 593.5 1005.7 592.6C1012.5 591.7 1020.4 589.6 1025.7 585.7C1030.8 581.9 1033.3 575.4 1037.1 570C1041 564.5 1044.6 558.1 1048.6 552.9C1052.3 548.2 1055.9 542.8 1060 540C1063.3 537.8 1067 535.9 1070.6 536.3C1074.7 536.8 1079 540.5 1082.9 544.3C1088 549.2 1092.3 557.8 1097.1 564.3C1101.8 570.7 1106.1 578.2 1111.4 582.9C1115.8 586.8 1120.3 589.9 1125.7 591.4C1131.6 593 1139.3 591.1 1145.7 591.4C1151.7 591.7 1157.2 591.7 1162.9 592.9C1168.7 594.1 1174.6 595.6 1180 598.6C1186 602 1191.5 607.8 1197.1 612.9C1202.9 618.2 1208.7 626 1214.3 630C1218.6 633.1 1221.8 635.1 1227.1 636.3C1234.7 638.1 1246.6 636.3 1256.3 636.3C1266.1 636.3 1278.3 637.6 1285.7 636.3C1290.5 635.5 1293.5 634.5 1297.1 632.3C1301.2 629.8 1304.9 625.3 1308.6 621.4C1312.5 617.4 1316.4 613.3 1320 608.6C1324 603.4 1328 597.1 1331.4 591.4C1334.6 586.1 1336.5 580.1 1340 575.7C1343.2 571.7 1347.1 568.3 1351.4 565.7C1355.7 563.1 1360.9 560.4 1365.7 560C1370.4 559.6 1375.1 561.2 1380 562.9C1385.6 564.8 1391.7 569.2 1397.1 571.4C1401.6 573.3 1406 575.9 1410 575.7C1413.6 575.5 1416.5 574 1420 571.4C1425.4 567.4 1430.9 557.4 1437.1 551.4C1443.1 545.6 1449.9 540.9 1456.3 535.7"/><path d="M62.9 624.9C67.6 624.2 72.2 623.9 77.1 622.9C82.6 621.8 88.7 620.7 94.3 618.6C100.1 616.4 107.2 612.1 111.4 610C113.8 608.8 114.8 608.4 117.1 607.1C120.8 605.1 126.3 601 131.4 598.6C136.8 596.1 142.6 593.8 148.6 592.3C154.9 590.7 162.2 589.6 168.6 589.4C174.5 589.2 180 589.8 185.7 590.6C191.5 591.4 197.4 593.7 202.9 594.3C207.8 594.9 213.1 595.3 217.1 594.6C220.1 594 222.1 592.9 224.8 591.4C228.3 589.5 232.7 586.3 236.2 583.8C239.3 581.6 242 579.5 244.8 577.1C247.7 574.7 250 571.7 253.3 569.5C256.9 567.1 262.3 563.5 265.7 563.8C268.4 564.1 270.5 566.4 272.4 568.6C274.7 571.2 276.2 574.9 278.1 579C280.6 584.5 283.3 593.1 285.7 599C287.7 603.8 289.4 607 291.4 612C294.1 618.7 296.8 627.6 300 635.7C303.4 644.5 306.9 655.8 311.4 662.9C314.8 668.3 318.3 672.4 322.9 675.7C327.7 679.1 334.3 680.7 340 682.9C345.7 685 351.5 686.1 357.1 688.6C363 691.2 368.7 694.9 374.3 698.6C380.1 702.5 386 707.2 391.4 711.4C396.4 715.3 401.5 718.4 405.7 722.9C410.1 727.5 413.4 732.9 417.1 738.6C421.1 744.8 424.8 752.6 428.6 758.6C431.9 763.8 435.2 770 438.6 772.9C440.9 774.9 443.2 776.4 445.7 776.3C448.5 776.2 451.3 774 454.3 771.4C458.8 767.4 463.9 759.2 468.6 752.9C473.4 746.4 477.9 739.8 482.9 732.9C488.3 725.5 494.2 717.3 500 710C505.6 703 510.9 695.2 517.1 690C522.5 685.5 527.9 682.4 534.3 680C541.2 677.4 550.4 677.3 557.1 675.7C562.5 674.4 567.6 674.2 571.4 671.4C575.3 668.5 577.4 663.8 580 658.6C583.4 651.7 585.7 641.2 588.6 632.9C591.4 625 593.7 618.2 597.1 610C601.1 600.3 605.6 585.2 611.4 578.6C615.2 574.2 619.6 571.9 624.3 570.6C629.1 569.2 634.3 570.6 640 570.6C646.9 570.6 655.6 569.4 662.9 570.6C669.9 571.7 676.5 575.1 682.9 577.1C688.8 578.9 694.7 580.6 700 582C704.6 583.2 708.6 583.9 712.9 584.9L712.9 589.4C718.1 589.4 723.8 587.6 728.6 589.4C733.9 591.3 738.7 596.7 742.9 601.4C747.3 606.4 750.4 613.2 754.3 618.6C758 623.7 761.4 629.8 765.7 632.9C769.2 635.4 773 636.8 777.1 637.1C781.6 637.5 786.3 636 791.4 634.3C797.6 632.3 805.6 625 811.4 624.9C815.7 624.9 819 627.3 822.9 630C828.4 633.8 833.7 641.6 840 647.1C846.9 653.1 855.9 658.7 862.9 664.3C869.1 669.2 874.2 675.4 880 678.6C884.7 681.2 890.6 683 894.3 683.4C896.6 683.7 897.8 683.7 900 682.9C903.8 681.5 909.4 677.2 914.3 672.9C920.7 667.3 927.2 658.1 934.3 651.4C941.4 644.7 948.6 637.8 957.1 632.9C965.7 627.9 976 623 985.7 622C995.1 621 1005.6 624.9 1014.3 626.6C1021.6 628.1 1027.9 630.9 1034.3 631.4C1040.2 631.9 1046 631.2 1051.4 630C1056.5 628.9 1061.1 625.5 1065.7 624.9C1069.7 624.4 1073 625 1077.1 625.7C1082.3 626.6 1088.1 630.2 1094.3 630.6C1101.3 631 1109.5 628.5 1117.1 627.1C1124.7 625.7 1132.6 622.9 1140 622C1146.9 621.1 1153.9 620.6 1160 621.4C1165.2 622.1 1169.6 623.8 1174.3 625.7C1179.2 627.6 1185 630.7 1188.6 632.9C1191 634.4 1192 635.3 1194.3 637.1C1198 640 1203.9 644.4 1208.6 648.6C1213.5 653 1217.9 657.9 1222.9 662.9C1228.3 668.3 1233.9 676.2 1240 680C1245.2 683.2 1250.9 683.8 1256.3 685.7L1256.3 778.6C1259.4 775.7 1262.6 773.6 1265.7 770C1269.6 765.5 1273.4 758.9 1277.1 752.9C1281 746.6 1284.9 739.9 1288.6 732.9C1292.5 725.6 1295.7 717.4 1300 710C1304.3 702.6 1309.1 695.5 1314.3 688.6C1319.6 681.7 1325.7 674.1 1331.4 668.6C1336.2 664 1340.8 660.5 1345.7 657.1C1350.4 653.9 1354.7 651 1360 648.6C1366 645.9 1373.3 643.9 1380 642C1386.6 640.1 1393.6 638.8 1400 637.1C1405.9 635.5 1411.1 633.6 1417.1 632.3C1423.5 631 1430.5 630.6 1437.1 629.4C1443.6 628.2 1449.9 626.4 1456.3 624.9"/><path d="M62.9 657.1C67.6 655.2 72.1 653.4 77.1 651.4C82.6 649.2 88.1 646.1 94.3 644.3C101.3 642.3 109 641.5 117.1 640.6C126.1 639.6 136.2 639.3 145.7 639.1C155.2 638.9 165 639.2 174.3 639.1C183.1 639 192.3 639.5 200 638.6C206.3 637.9 211.2 636.5 217.1 635.1C223.5 633.6 231 631.3 237.1 630C242.2 628.9 246.6 628.3 251.4 627.7C256.2 627.1 261.3 625.7 265.7 626.6C269.8 627.4 273.7 629.2 277.1 632.3C281.5 636.3 284.9 642.9 288.6 650C293.5 659.4 298.9 673.6 302.9 684.3C306.3 693.4 308.6 701.2 311.4 710C314.3 719.3 317.1 730.4 320 738.6C322.3 745.1 324.3 751.1 327.1 755.7C329.3 759.3 331.4 762.7 334.3 764.3C336.8 765.7 339.9 766.2 342.9 765.7C346.5 765.1 350.1 762.5 354.3 760C360.2 756.5 367.5 749.5 374.3 745.7C380.4 742.3 387 738 392.9 738C398.3 738 403.8 741.1 408.6 744.3C413.9 747.8 418.1 753.8 422.9 758.6C427.6 763.4 432.5 768.9 437.1 772.9C441 776.3 444.6 780.6 448.6 781.4C452.2 782.1 456.5 780.8 460 778.6C464.3 775.8 467.5 768.9 471.4 764.3C475.2 759.8 478.6 754.8 482.9 751.4C486.8 748.3 491.3 745.2 495.7 744.3C499.9 743.5 504.1 744.4 508.6 745.7C514 747.3 519.7 751.5 525.7 754.3C532.1 757.4 540.8 763.8 545.7 763.4C548.8 763.2 550.8 761 552.9 758.6C555.8 755.3 557.7 749.9 560 744.3C563 737.1 565.6 726.6 568.6 718.6C571.3 711.5 573.7 705.6 577.1 698.6C581.1 690.5 586.6 681.5 591.4 672.9C596.2 664.3 600.5 654.6 605.7 647.1C610.2 640.6 614.1 633 620 630C625.6 627.1 634.7 628.4 640 628.6C643.5 628.8 644.9 629.6 648.6 630C655.3 630.7 668.4 631 677.1 631.4C684.4 631.7 690.8 632.4 697.1 632.3C702.7 632.2 707.6 631.4 712.9 630.9L712.9 638.6C715.3 639.5 717.7 639.3 720 641.4C724.1 645.2 728.2 656.1 731.4 664.3C734.9 673.2 737 684 740 692.9C742.7 701 745.4 707.9 748.6 715.7C752 724.1 755.8 732.9 760 741.4C764.3 750.1 769.5 758.5 774.3 767.1C779.1 775.7 783.7 786.9 788.6 792.9C791.9 796.9 795.1 800.9 798.6 801.4C801.8 801.9 805.1 799.2 808.6 797.1C813.1 794.4 817.7 788.7 822.9 785.7C828.1 782.8 834.5 779.5 840 779.4C845 779.3 849.9 781.4 854.3 784.3C859.5 787.7 863.6 795.4 868.6 800C873.2 804.3 878.1 810.4 882.9 811.4C886.7 812.2 891.1 809.2 894.3 808.6C896.5 808.2 897.8 807.9 900 807.7C903.1 807.5 907.8 809.1 911.4 807.7C915.6 806.1 918.7 800.5 922.9 797.1C927.3 793.6 932.4 789.2 937.1 787.1C941 785.3 944.5 784.8 948.6 784.3C953.1 783.8 958.4 784 962.9 784.3C966.9 784.5 970.8 786.3 974.3 785.7C977.5 785.2 980.1 783.8 982.9 781.4C986.9 777.8 990.6 771 994.3 764.3C999.2 755.6 1003.9 743.6 1008.6 732.9C1013.5 721.8 1017.8 709.1 1022.9 698.6C1027.4 689.3 1031.7 679.5 1037.1 672.9C1041.4 667.6 1045.9 663.5 1051.4 660.9C1057 658.2 1064.9 657.3 1070.6 657.1C1075.1 656.9 1078.8 657.2 1082.9 658.6C1087.6 660.2 1092.7 663.1 1097.1 667.1C1102.4 672 1107 679.4 1111.4 687.1C1116.6 696.2 1120.9 708.1 1125.7 718.6C1130.5 729.1 1135.1 739.8 1140 750C1144.7 759.8 1148.9 772.4 1154.3 778.6C1157.8 782.7 1161.3 785.5 1165.7 786.6C1170.6 787.8 1177.4 784.9 1182.9 784.3C1187.9 783.7 1192.4 782.2 1197.1 782.9C1201.9 783.6 1206.8 786.1 1211.4 788.6C1216.3 791.3 1220.9 795.5 1225.7 798.6C1230.4 801.6 1234.9 805.6 1240 807.1C1245.1 808.6 1250.9 807.5 1256.3 807.7L1256.3 780.9C1259.4 781.8 1262.3 783.8 1265.7 783.7C1270 783.6 1275.3 780.8 1280 778.6C1284.9 776.3 1289.2 772.6 1294.3 770C1299.7 767.3 1305.6 763.3 1311.4 762.9C1317.1 762.5 1323 765.1 1328.6 767.1C1334.4 769.1 1339.9 773.1 1345.7 775.1C1351.3 777 1358.4 780.5 1362.9 779.1C1366.6 778 1368.6 773.9 1371.4 770C1375.3 764.6 1379 756.6 1382.9 748.6C1387.6 738.9 1392.3 726.5 1397.1 715.7C1401.8 705.1 1406.1 693.2 1411.4 684.3C1415.8 677 1420.5 670.4 1425.7 665.7C1430.1 661.8 1434.9 658.5 1440 657.1C1445.1 655.7 1450.9 657.1 1456.3 657.1"/><path d="M62.9 670.9C67.6 672.5 72.3 673.3 77.1 675.7C82.7 678.5 88.6 683.1 94.3 687.1C100.1 691.2 105.8 695.3 111.4 700C117.2 704.9 122.7 711.1 128.6 715.7C134.1 720 139.8 724.2 145.7 727.1C151.3 729.8 157.7 731.9 162.9 732.9C167 733.7 170.3 733.9 174.3 733.4C178.8 732.9 183.4 731.5 188.6 729.4C195.5 726.6 203.8 719.6 211.4 717.1C218.1 714.9 224.1 714.9 231.4 714.3C240.1 713.6 251 713.4 260 713.7C268.1 714 275.9 714 282.9 715.7C289.1 717.2 294.8 718.8 300 722.9C306.5 727.9 312.3 737.7 317.1 745.7C321.8 753.4 325 761.3 328.6 770C332.6 779.7 336.6 792.6 340 801.4C342.5 807.8 344.4 812.7 346.7 818C348.8 822.9 350.8 827.3 353 832C355.2 836.9 356.9 841.8 360 846.7C363.5 852.3 368.5 859.8 373.3 863.3C377 866 380.6 867.6 385 867.7C390.4 867.8 397.7 865 403.3 861.7C409.4 858.2 414.8 851.6 420 846.7C424.8 842.2 429 837.5 433.3 833.3C437.3 829.5 440.6 823.3 445 822.7C449.5 822.1 454.9 827.5 460 830C465.4 832.7 471 836.2 476.7 838.3C482.1 840.3 487.6 843 493.3 842.7C499.7 842.4 507.9 839.1 513.3 835C518.6 831 521.6 824.6 525.7 818.6C530.5 811.7 535.4 803.7 540 795.7C544.9 787.1 548.8 775.6 554.3 768.6C558.6 763 564.1 760.8 568.6 755.7C573.7 750 578.1 742.4 582.9 735.7C587.6 729 591.6 719.4 597.1 715.7C601.4 712.8 606.6 713 611.4 712.3C616.1 711.6 620.7 711.3 625.7 711.4C631.2 711.5 636.6 712.4 642.9 713.4C650.6 714.6 660 717.7 668.6 718.6C677.1 719.5 686.5 719.4 694.3 718.6C701 717.9 706.7 716.1 712.9 714.9L712.9 733.7C720 734.4 728.4 734.3 734.3 735.7C738.8 736.7 742.2 737.4 745.7 740C750.1 743.3 753.6 749.4 757.1 755.7C761.5 763.6 764.9 775 768.6 784.3C772.1 793.1 775.4 803.8 778.6 810C780.6 813.8 781.7 817.4 784.3 818.6C786.9 819.8 791 816.4 794.3 817.1C798.1 817.9 801.8 821.5 805.7 824.3C810.3 827.6 815 832.9 820 835.7C824.6 838.2 829.5 840.1 834.3 840.6C839 841.1 843.8 840.4 848.6 838.6C854.3 836.4 860.4 830.5 865.7 827.1C870.3 824.2 874 819.8 878.6 819.4C883.5 819 890.3 825.4 894.3 825.7C896.6 825.9 897.8 825.3 900 824.3C903.8 822.6 908.9 815.4 914.3 814.3C920.2 813.1 927.9 817.9 934.3 818.6C940.2 819.2 945.8 819.9 951.4 818.6C957.3 817.2 963.4 813.7 968.6 810C973.9 806.3 977.7 798.8 982.9 796.3C987.3 794.2 993 796 997.1 794.3C1000.9 792.8 1004 791 1007.1 787.1C1012.2 780.7 1015.7 766.9 1020 755.7C1024.8 743.2 1029.3 728.1 1034.3 715.7C1038.8 704.5 1043.4 691.9 1048.6 684.3C1052.2 679.1 1055.8 675.1 1060 672.9C1063.5 671.1 1067.7 670.5 1071.4 670.9C1075.3 671.3 1079.3 672.8 1082.9 675.7C1088 679.8 1092.8 687.9 1097.1 695.7C1102.5 705.4 1106.8 718.1 1111.4 730C1116.3 742.8 1120.8 758.9 1125.7 770C1129.4 778.4 1132.2 786.6 1137.1 791.4C1141.1 795.3 1146.8 796.6 1151.4 798.6C1155.4 800.3 1159.3 800.7 1162.9 802.9C1166.9 805.3 1170.4 809.8 1174.3 812.9C1178 815.9 1181.7 819.4 1185.7 821.4C1189.3 823.2 1192.7 824.5 1197.1 824.9C1202.8 825.5 1210.5 823.9 1217.1 822.9C1223.8 821.8 1230.5 818.4 1237.1 818.6C1243.6 818.8 1251 822.4 1256.3 823.7C1260 824.6 1262.4 824.2 1265.7 825.7C1270.2 827.8 1275.1 833.7 1280 837.1C1284.7 840.3 1289.4 843.9 1294.3 845.7C1298.9 847.4 1303.9 848.4 1308.6 848C1313.4 847.6 1318.3 845.3 1322.9 842.9C1327.8 840.3 1332.7 837.3 1337.1 832.9C1342.3 827.7 1346.4 819.8 1351.4 812.9C1356.8 805.5 1362.3 795.9 1368.6 790C1373.9 785 1380.5 784 1385.7 778.6C1392.3 771.7 1397.8 760.2 1402.9 750C1408.3 739.3 1412 726.2 1417.1 715.7C1421.6 706.4 1426.2 697.3 1431.4 690C1435.8 683.8 1440.8 677.3 1445.7 674.3C1449.2 672.2 1452.8 672.4 1456.3 671.4"/><path d="M63.3 832.7C68.9 833.5 73.7 833.5 80 835C88.6 837 99.8 841.5 110 845C120.8 848.7 132.4 853.9 143.3 856.7C153.4 859.3 163.6 861.3 173.3 861.7C182.4 862 191.2 860.8 200 859.3C209 857.8 220.1 854.8 226.7 852.7C230.7 851.4 231.9 849.9 236 849C243.2 847.4 256.9 848.3 266.7 847.3C275.9 846.4 284.4 844.8 293.3 843.3C302.2 841.8 312.7 838.1 320 838.3C325.2 838.5 328.8 839.6 333.3 841.7C338.8 844.2 344.5 849.2 350 853.3C355.6 857.5 360.4 862.8 366.7 866.7C373.6 871 382.8 877 390 877.7C395.9 878.2 401.5 876.3 406.7 873.3C412.7 869.8 418.1 862 423.3 856.7C428 851.9 431.7 846.6 436.7 842.7C441.7 838.8 448.1 833.2 453.3 833.3C458 833.4 462.2 838.1 466.7 841.7C472.2 846.1 477.1 853.7 483.3 858.3C489.4 862.9 496.5 868.6 503.3 869.3C509.8 870 517.1 867 523.3 863.3C530.6 859 537 849.9 543.3 843.3C549.2 837.1 555.3 830.1 560 825C563.3 821.4 564.8 817.6 568.6 815.7C573 813.4 579.6 813.6 585.7 813.7C592.8 813.8 601.5 816.5 608.6 817.1C614.7 817.7 620.6 817.4 625.7 817.7C629.9 817.9 632.9 818 637.1 818.6C642.3 819.3 648.3 820 654.3 822C661.5 824.4 669.7 829.5 677.1 832.9C684 836.1 690.8 839.3 697.1 842C702.7 844.4 707.6 846.4 712.9 848.6L712.9 861.4C719.7 860.4 726.6 860.1 733.3 858.3C740.1 856.5 746.5 854.2 753.3 850.7C761.4 846.5 771.8 834.2 778.3 834C782.3 833.9 785.3 836.7 788.3 840C792.8 844.9 795.5 855.4 800 863.3C804.9 872 809.5 883.8 816.7 890C823.2 895.5 832.6 900.2 840 900C847 899.8 854.2 893.6 860 890C865 886.9 868.4 883.6 873.3 880C879.3 875.7 887.1 866.6 893.3 866C898.1 865.5 902 869 906.7 871.7C912.9 875.3 920.1 883 926.7 886.7C932.3 889.8 937.4 892.9 943.3 893.3C949.6 893.7 957.4 892 963.3 888.3C969.9 884.2 975 875.3 980 868.3C985 861.4 988.7 853.4 993.3 846.7C997.6 840.5 1002 832.6 1006.7 829.3C1009.9 827 1012.4 826.4 1016.7 826C1024 825.4 1037.3 829.6 1046.7 830.7C1054.9 831.7 1062 832.8 1070 832.7C1078.6 832.6 1088.1 830.9 1096.7 830C1104.7 829.1 1113.3 827 1120 827.3C1125.1 827.5 1129.2 827.8 1133.3 830C1138.2 832.6 1142.2 838 1146.7 843.3C1152.2 849.8 1157.6 859.3 1163.3 866.7C1168.7 873.7 1173.5 881.9 1180 886.7C1185.9 891 1193.3 894.8 1200 895C1206.6 895.2 1213.6 891.7 1220 888.3C1227 884.6 1233.5 877 1240 873.3C1245.4 870.2 1250.7 868.9 1256 866.7L1256 835C1259.6 836.1 1262.9 836.1 1266.7 838.3C1272.7 841.7 1280 850.8 1286.7 856.7C1293.3 862.5 1299.6 869.7 1306.7 873.3C1313 876.5 1320.1 878.5 1326.7 878.3C1333.4 878.1 1340.5 875.5 1346.7 871.7C1353.9 867.2 1360.4 858.3 1366.7 851.7C1372.6 845.5 1377.6 837.6 1383.3 833.3C1387.7 830 1391.3 827.6 1396.7 826.7C1403.9 825.5 1413.9 829 1423.3 830C1433.8 831.1 1445.6 831.8 1456.7 832.7"/>
</g>
<path d="M172 29V39M172 992V982M236 29V39M236 992V982M267 29V39M267 992V982M436 29V39M436 992V982M624 29V39M624 992V982M713 29V39M713 992V982M875 29V39M875 992V982M1070 29V39M1070 992V982M1256 29V39M1256 992V982M64 855H74M1456 855H1446M64 717H74M1456 717H1446M64 579H74M1456 579H1446M64 442H74M1456 442H1446M64 304H74M1456 304H1446M64 166H74M1456 166H1446" stroke="#000" stroke-width="2" fill="none"/>
<line x1="64" y1="304" x2="1456" y2="304" stroke="#56b4e9" stroke-width="2"/>
<rect x="63" y="28" width="1394" height="965" fill="none" stroke="#000" stroke-width="2"/>
<g fill="#000"><rect x="26" y="442" width="7" height="2"/><rect x="26" y="579" width="7" height="2"/><rect x="26" y="717" width="7" height="2"/><rect x="26" y="855" width="7" height="2"/><rect x="26" y="993" width="7" height="2"/><path d="M55.2 1012.0H69.6V1015.6H68.8Q68.4 1013.6 66.2 1013.6H60.3V1025.8Q60.3 1027.1 63.1 1027.2V1028.0H55.2V1027.2Q58.0 1027.1 58.0 1025.8V1014.4Q58.0 1013.0 55.2 1012.8ZM1062.5 1012.0H1076.9V1015.6H1076.1Q1075.7 1013.6 1073.5 1013.6H1067.6V1025.8Q1067.6 1027.1 1070.4 1027.2V1028.0H1062.5V1027.2Q1065.3 1027.1 1065.3 1025.8V1014.4Q1065.3 1013.0 1062.5 1012.8ZM1449.2 1012.0H1463.6V1015.6H1462.8Q1462.4 1013.6 1460.2 1013.6H1454.3V1025.8Q1454.3 1027.1 1457.1 1027.2V1028.0H1449.2V1027.2Q1452.0 1027.1 1452.0 1025.8V1014.4Q1452.0 1013.0 1449.2 1012.8ZM41.0 156.0V173.0H39.0V158.8L35.0 161.8V159.8Q37.4 158.4 39.2 156.0ZM43.0 432.0V449.0H41.0V434.8L37.0 437.8V435.8Q39.4 434.4 41.2 432.0ZM459.0 1020.0V1034.0H457.0V1022.3L453.6 1024.8V1023.1Q455.4 1022.0 457.2 1020.0ZM707.0 1020.0V1034.0H705.0V1022.3L701.6 1024.8V1023.1Q703.4 1022.0 705.2 1020.0ZM871.0 1020.0V1034.0H869.0V1022.3L865.6 1024.8V1023.1Q867.4 1022.0 869.2 1020.0Z"/></g><g opacity="0.999"><text x="32" y="35">2</text><text x="32" y="311">0</text><text x="34" y="586">2</text><text x="34" y="724">3</text><text x="34" y="862">4</text><text x="34" y="1000">5</text></g><g opacity="0.999" style="font-size:24px"><text x="162" y="1028">Y</text><text x="228" y="1028">F</text><text x="260" y="1028">L</text><text x="418" y="1028">I</text><text x="442" y="1028">I</text><text x="614" y="1028">Z</text><text x="684" y="1028">F</text><text x="720" y="1028">Y</text><text x="844" y="1028">X</text><text x="881" y="1028">X</text><text x="1234" y="1028">N</text><text x="1261" y="1028">M</text></g>
</svg>
</body></html>
